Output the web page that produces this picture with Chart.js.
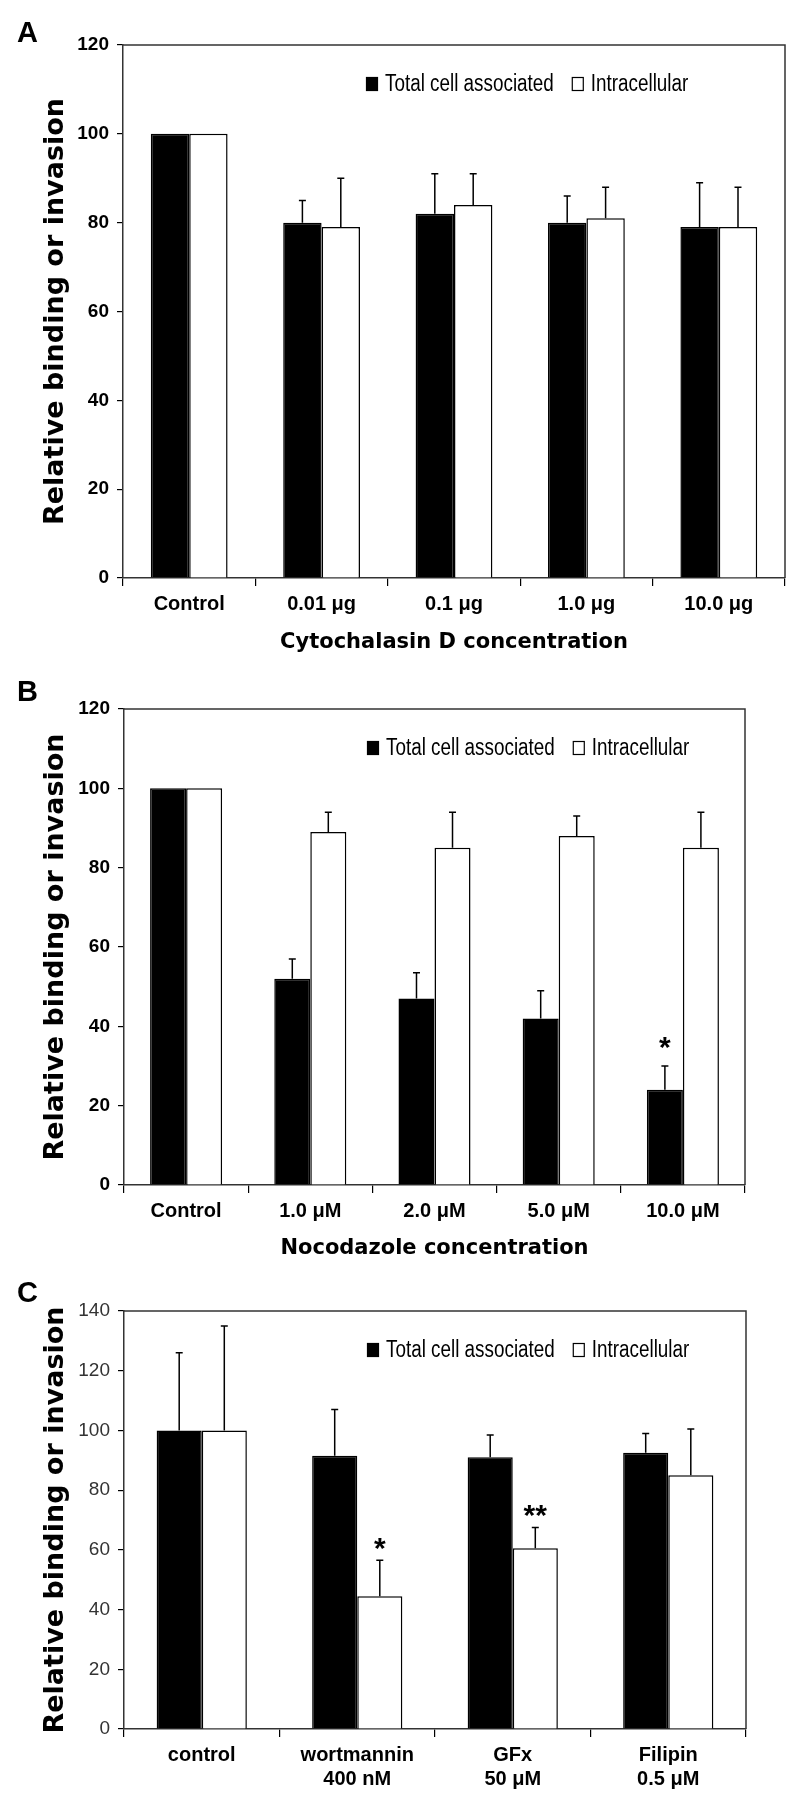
<!DOCTYPE html>
<html>
<head>
<meta charset="utf-8">
<script src="https://cdn.jsdelivr.net/npm/chart.js@4.4.1/dist/chart.umd.min.js"></script>
<style>
  body { margin: 0; background: #fff; }
  .wrap { position: relative; width: 800px; height: 1798px; }
  canvas { position: absolute; left: 0; }
</style>
</head>
<body>
<div class="wrap">
  <canvas id="chartA" width="800" height="670" style="top:0px"></canvas>
  <canvas id="chartB" width="800" height="600" style="top:670px"></canvas>
  <canvas id="chartC" width="800" height="528" style="top:1270px"></canvas>
</div>
<script>
// panel A - cytochalasin D
const catsA = ['Control', '0.01 μg', '0.1 μg', '1.0 μg', '10.0 μg'];
const totalA = [100, 80, 82, 80, 79];
const intraA = [100, 79, 84, 81, 79];
const totalErrA = [0, 5, 9, 6, 10];
const intraErrA = [0, 11, 7, 7, 9];

// panel B - nocodazole
const catsB = ['Control', '1.0 μM', '2.0 μM', '5.0 μM', '10.0 μM'];
const totalB = [100, 52, 47, 42, 24];
const intraB = [100, 89, 85, 88, 85];
const totalErrB = [0, 5, 6.5, 7, 6];
const intraErrB = [0, 5, 9, 5, 9];
const totalSigB = ['', '', '', '', '*'];

// panel C - inhibitors
const catsC = ['control', ['wortmannin', '400 nM'], ['GFx', '50 μM'], ['Filipin', '0.5 μM']];
const totalC = [100, 91.5, 91, 92.5];
const intraC = [100, 44.5, 60.5, 85];
const totalErrC = [26, 15.5, 7.5, 6.5];
const intraErrC = [35, 12, 7, 15.5];
const intraSigC = ['', '*', '**', ''];

const seriesNames = ['Total cell associated', 'Intracellular'];
const yTitle = 'Relative binding or invasion';

const SANS = '"Liberation Sans", Arial, sans-serif';
const WIDE = '"DejaVu Sans", Verdana, sans-serif';

// frame, error bars, stars, in-plot legend, panel letter
const decoPlugin = {
  id: 'deco',
  afterDatasetsDraw(chart, args, opts) {
    const ctx = chart.ctx;
    const area = chart.chartArea;
    const yScale = chart.scales.y;
    ctx.save();

    // top and right frame lines
    ctx.strokeStyle = '#333';
    ctx.lineWidth = 1.5;
    ctx.beginPath();
    ctx.moveTo(area.left, area.top);
    ctx.lineTo(area.right, area.top);
    ctx.lineTo(area.right, area.bottom);
    ctx.stroke();

    // upper error bars + significance marks
    chart.data.datasets.forEach((ds, di) => {
      const meta = chart.getDatasetMeta(di);
      meta.data.forEach((bar, i) => {
        const err = ds.errors[i];
        let topY = bar.y;
        if (err > 0) {
          topY = yScale.getPixelForValue(ds.data[i] + err);
          ctx.strokeStyle = '#000';
          ctx.lineWidth = 1.5;
          ctx.beginPath();
          ctx.moveTo(bar.x, bar.y);
          ctx.lineTo(bar.x, topY);
          ctx.moveTo(bar.x - 3.5, topY);
          ctx.lineTo(bar.x + 3.5, topY);
          ctx.stroke();
        }
        const sig = ds.sig ? ds.sig[i] : '';
        if (sig) {
          ctx.fillStyle = '#000';
          ctx.font = 'bold 30px ' + SANS;
          ctx.textAlign = 'center';
          ctx.textBaseline = 'alphabetic';
          ctx.fillText(sig, bar.x, topY + 10 - opts.starGap);
        }
      });
    });

    // legend inside plot (narrow text)
    let x = area.left + 243;
    const ly = area.top + 39;
    const squeeze = 0.82;
    ctx.font = '23px ' + SANS;
    ctx.textBaseline = 'middle';
    ctx.textAlign = 'left';
    chart.data.datasets.forEach((ds) => {
      ctx.fillStyle = ds.backgroundColor;
      ctx.fillRect(x, ly - 7, 12, 14);
      ctx.strokeStyle = '#000';
      ctx.lineWidth = 1.2;
      ctx.strokeRect(x + 0.5, ly - 6.5, 11, 13);
      ctx.fillStyle = '#000';
      ctx.save();
      ctx.translate(x + 19, ly + 1);
      ctx.scale(squeeze, 1);
      ctx.fillText(ds.label, 0, 0);
      ctx.restore();
      x += 19 + ctx.measureText(ds.label).width * squeeze + 18;
    });

    // panel letter
    ctx.font = 'bold 29px ' + SANS;
    ctx.textBaseline = 'alphabetic';
    ctx.fillStyle = '#000';
    ctx.fillText(opts.letter, 17, opts.letterY);
    ctx.restore();
  }
};

function makePanel(id, cats, total, intra, totalErr, intraErr, totalSig, intraSig, cfg) {
  const canvas = document.getElementById(id);
  const H = canvas.height;
  return new Chart(canvas, {
    type: 'bar',
    data: {
      labels: cats,
      datasets: [{
        label: seriesNames[0],
        data: total,
        errors: totalErr,
        sig: totalSig,
        backgroundColor: '#000',
        borderColor: '#000',
        borderWidth: 1.5
      }, {
        label: seriesNames[1],
        data: intra,
        errors: intraErr,
        sig: intraSig,
        backgroundColor: '#fff',
        borderColor: '#000',
        borderWidth: 1.5
      }]
    },
    options: {
      responsive: false,
      animation: false,
      devicePixelRatio: 1,
      layout: { padding: { left: 28, top: cfg.top, right: 800 - cfg.right, bottom: 0 } },
      datasets: { bar: { barPercentage: 1, categoryPercentage: 0.58 } },
      scales: {
        x: {
          grid: { drawOnChartArea: false, drawTicks: true, tickLength: 8, color: '#000', lineWidth: 1.2 },
          border: { display: true, color: '#333', width: 1.5 },
          ticks: { color: '#000', padding: 6, font: cfg.xFont, maxRotation: 0, autoSkip: false },
          title: {
            display: !!cfg.xTitle,
            text: cfg.xTitle,
            color: '#000',
            font: { family: WIDE, weight: 'bold', size: 21 },
            padding: { top: 0, bottom: cfg.xTitlePad }
          },
          afterFit: (s) => { s.height = H - cfg.bottom; }
        },
        y: {
          min: 0,
          max: cfg.max,
          grid: { drawOnChartArea: false, drawTicks: true, tickLength: 6, color: '#000', lineWidth: 1.2 },
          border: { display: true, color: '#333', width: 1.5 },
          ticks: { stepSize: 20, color: cfg.yTickColor, padding: 8, font: cfg.yFont },
          title: {
            display: true,
            text: yTitle,
            color: '#000',
            font: { family: WIDE, weight: 'bold', size: 27 },
            padding: { top: 12, bottom: 0 }
          },
          afterFit: (s) => { s.width = cfg.left - 28; }
        }
      },
      plugins: {
        legend: { display: false },
        tooltip: { enabled: false },
        deco: { letter: cfg.letter, letterY: cfg.letterY, starGap: cfg.starGap }
      }
    },
    plugins: [decoPlugin]
  });
}

makePanel('chartA', catsA, totalA, intraA, totalErrA, intraErrA, null, null, {
  left: 123, right: 785, top: 45, bottom: 578, max: 120,
  xTitle: 'Cytochalasin D concentration', xTitlePad: 15,
  xFont: { family: SANS, weight: 'bold', size: 20 },
  yFont: { family: SANS, weight: 'bold', size: 19 }, yTickColor: '#000',
  letter: 'A', letterY: 42, starGap: 10
});

makePanel('chartB', catsB, totalB, intraB, totalErrB, intraErrB, totalSigB, null, {
  left: 124, right: 745, top: 39, bottom: 515, max: 120,
  xTitle: 'Nocodazole concentration', xTitlePad: 9,
  xFont: { family: SANS, weight: 'bold', size: 20 },
  yFont: { family: SANS, weight: 'bold', size: 19 }, yTickColor: '#000',
  letter: 'B', letterY: 31, starGap: 19
});

makePanel('chartC', catsC, totalC, intraC, totalErrC, intraErrC, null, intraSigC, {
  left: 124, right: 746, top: 41, bottom: 459, max: 140,
  xTitle: '', xTitlePad: 0,
  xFont: { family: SANS, weight: 'bold', size: 20 },
  yFont: { family: SANS, weight: 'normal', size: 19 }, yTickColor: '#333',
  letter: 'C', letterY: 32, starGap: 12
});
</script>
</body>
</html>
